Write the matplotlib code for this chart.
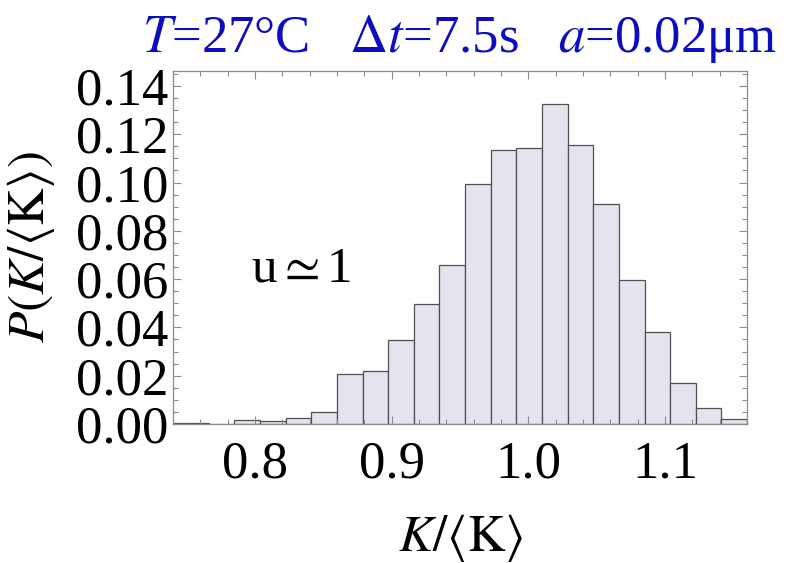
import matplotlib
matplotlib.use("Agg")
import matplotlib.pyplot as plt
import numpy as np
from matplotlib.ticker import FixedLocator, MultipleLocator

# histogram of K/<K>, bins
BIN_EDGES = [0.72875, 0.7475, 0.76625, 0.785, 0.80375, 0.8225, 0.84125, 0.86,
             0.87875, 0.8975, 0.91625, 0.935, 0.95375, 0.9725, 0.99125, 1.01,
             1.02875, 1.0475, 1.06625, 1.085, 1.10375, 1.1225, 1.14125, 1.16]
PROB = [0.0005, 0.0005, 0.0, 0.0017, 0.0012, 0.0025, 0.0048, 0.0207,
        0.0219, 0.0346, 0.0498, 0.066, 0.0995, 0.1136, 0.1143, 0.1325,
        0.1154, 0.0911, 0.0598, 0.0381, 0.0168, 0.0065, 0.0022]
X_TICKS = [0.8, 0.9, 1.0, 1.1]
X_TICK_LABELS = ["0.8", "0.9", "1.0", "1.1"]
Y_TICKS = [0.0, 0.02, 0.04, 0.06, 0.08, 0.10, 0.12, 0.14]
Y_TICK_LABELS = ["0.00", "0.02", "0.04", "0.06", "0.08", "0.10", "0.12", "0.14"]

plt.rcParams["font.family"] = ["Liberation Serif", "DejaVu Serif"]
plt.rcParams["mathtext.fontset"] = "stix"

fig = plt.figure(figsize=(7.92, 5.63), dpi=100)
ax = fig.add_axes([0.2184, 0.2469, 0.7248, 0.627])

edges = np.asarray(BIN_EDGES)
ax.bar(edges[:-1], PROB, width=np.diff(edges), align="edge",
       color="#e4e4ef", edgecolor="#505050", linewidth=0.9)

ax.set_xlim(0.74, 1.16)
ax.set_ylim(0, 0.1462)

ax.xaxis.set_major_locator(FixedLocator(X_TICKS))
ax.set_xticklabels(X_TICK_LABELS)
ax.xaxis.set_minor_locator(MultipleLocator(0.02))
ax.yaxis.set_major_locator(FixedLocator(Y_TICKS))
ax.set_yticklabels(Y_TICK_LABELS)
ax.yaxis.set_minor_locator(MultipleLocator(0.005))

for s in ax.spines.values():
    s.set_color("#8c8c8c")
    s.set_linewidth(0.9)
ax.tick_params(which="both", direction="in", top=True, right=True,
               color="#8c8c8c", width=0.8, labelsize=38)
ax.tick_params(which="major", length=6)
ax.tick_params(which="minor", length=3.5)
ax.tick_params(axis="x", pad=12)
ax.tick_params(axis="y", pad=3)

ax.set_xlabel(r"$K/\langle\mathrm{K}\rangle$", fontsize=37, labelpad=17)
ax.set_ylabel(r"$P(K/\langle\mathrm{K}\rangle)$", fontsize=37, labelpad=14)
ax.set_title(r"$T$=27°C   $\Delta t$=7.5s   $a$=0.02μm",
             fontsize=38, color="#0c0cc0", pad=14)

ax.text(0.797, 0.059, r"u$\simeq$1", fontsize=37)

fig.savefig("out.png", dpi=100)
